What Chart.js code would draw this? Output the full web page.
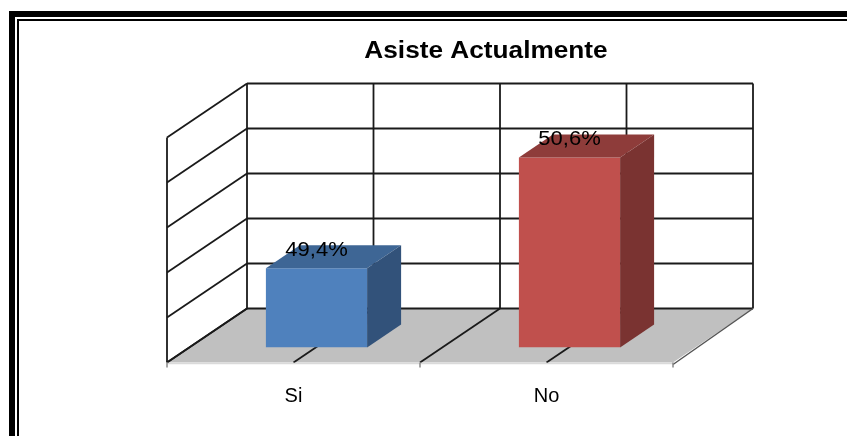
<!DOCTYPE html>
<html>
<head>
<meta charset="utf-8">
<script src="https://cdn.jsdelivr.net/npm/chart.js@4"></script>
<style>
  html, body { margin: 0; padding: 0; background: #fff; overflow: hidden; }
  canvas { display: block; }
</style>
</head>
<body>
<canvas id="AsisteChart" width="847" height="436"></canvas>
<script>
//
// Data
var chart_title = 'Asiste Actualmente';
var categories = ['Si', 'No'];
var attendance = [49.38, 50.61];
var value_labels = ['49,4%', '50,6%'];
var axis_min = 48.5;
var axis_max = 51;
var axis_step = 0.5;
var front_colors = ['#4F81BD', '#C0504D'];
var top_colors = ['#3E6695', '#8E3C3A'];
var side_colors = ['#32527A', '#7A3331'];

//
// Depth of the fake 3D box and of the bars inside it
var wall_dx = 80, wall_dy = -54;
var bar_dx = 23, bar_dy = -15;
var side_dx = 34, side_dy = -23;

function stretchedText(ctx, text, x, y, font, stretch) {
  ctx.save();
  ctx.font = font;
  ctx.fillStyle = '#000';
  ctx.textAlign = 'center';
  ctx.textBaseline = 'middle';
  ctx.translate(x, y);
  ctx.scale(stretch, 1);
  ctx.fillText(text, 0, 0);
  ctx.restore();
}

function line(ctx, x1, y1, x2, y2) {
  ctx.beginPath();
  ctx.moveTo(x1, y1);
  ctx.lineTo(x2, y2);
  ctx.stroke();
}

function poly(ctx, points, color) {
  ctx.fillStyle = color;
  ctx.beginPath();
  ctx.moveTo(points[0][0], points[0][1]);
  for (var i = 1; i < points.length; i++) {
    ctx.lineTo(points[i][0], points[i][1]);
  }
  ctx.closePath();
  ctx.fill();
}

//
// Frame, walls and floor behind the bars
var box3d = {
  id: 'box3d',
  beforeDatasetsDraw: function(chart) {
    var ctx = chart.ctx, area = chart.chartArea;
    var x = chart.scales.x, y = chart.scales.y;
    var step = (x.getPixelForValue(1) - x.getPixelForValue(0)) / 2;

    ctx.save();

    // Page frame
    ctx.fillStyle = '#000';
    ctx.fillRect(9, 11, 838, 6);
    ctx.fillRect(9, 11, 6, 425);
    ctx.fillRect(17, 19, 830, 2);
    ctx.fillRect(17, 19, 2, 417);

    // Floor
    poly(ctx, [
      [area.left, area.bottom],
      [area.left + wall_dx, area.bottom + wall_dy],
      [area.right + wall_dx, area.bottom + wall_dy],
      [area.right, area.bottom]
    ], '#C0C0C0');

    ctx.strokeStyle = '#1a1a1a';
    ctx.lineWidth = 1.8;

    // Horizontal grid lines, on both walls
    y.ticks.forEach(function(tick) {
      var py = y.getPixelForValue(tick.value);
      line(ctx, area.left, py, area.left + wall_dx, py + wall_dy);
      line(ctx, area.left + wall_dx, py + wall_dy, area.right + wall_dx, py + wall_dy);
    });

    // Vertical lines on the back wall
    for (var i = 0; i <= 4; i++) {
      var vx = area.left + wall_dx + i * step;
      line(ctx, vx, area.top + wall_dy, vx, area.bottom + wall_dy);
    }
    line(ctx, area.left, area.top, area.left, area.bottom);

    // Floor lines
    for (var j = 0; j < 4; j++) {
      var fx = area.left + j * step;
      line(ctx, fx, area.bottom, fx + wall_dx, area.bottom + wall_dy);
    }
    ctx.strokeStyle = '#555';
    ctx.lineWidth = 1.5;
    line(ctx, area.right, area.bottom + 2, area.right + wall_dx, area.bottom + wall_dy);

    // Front edge and ticks
    ctx.strokeStyle = '#DADADA';
    ctx.lineWidth = 1.5;
    line(ctx, area.left, area.bottom + 1, area.right, area.bottom + 1);
    ctx.strokeStyle = '#888';
    [0, 2, 4].forEach(function(k) {
      var tx = area.left + k * step;
      line(ctx, tx, area.bottom, tx, area.bottom + 5);
    });

    ctx.restore();
  },

  // Bars sit part way into the box
  beforeDatasetDraw: function(chart) {
    chart.ctx.save();
    chart.ctx.translate(bar_dx, bar_dy);
  },
  afterDatasetDraw: function(chart) {
    chart.ctx.restore();
  },

  // Top and side faces come from the bar elements, then the labels
  afterDatasetsDraw: function(chart) {
    var ctx = chart.ctx;
    chart.getDatasetMeta(0).data.forEach(function(bar, i) {
      var half = bar.width / 2;
      var l = bar.x - half + bar_dx, r = bar.x + half + bar_dx;
      var t = bar.y + bar_dy, b = bar.base + bar_dy;

      poly(ctx, [[l, t], [l + side_dx, t + side_dy], [r + side_dx, t + side_dy], [r, t]], top_colors[i]);
      poly(ctx, [[r, t], [r + side_dx, t + side_dy], [r + side_dx, b + side_dy], [r, b]], side_colors[i]);

      stretchedText(ctx, value_labels[i], bar.x + bar_dx, t - 18, '20px "Liberation Sans"', 1.1);
    });
    stretchedText(ctx, chart_title, 486, 52, 'bold 23px "Liberation Sans"', 1.14);
  }
};

new Chart(document.getElementById('AsisteChart').getContext('2d'), {
  type: 'bar',
  data: {
    labels: categories,
    datasets: [{
      data: attendance,
      base: axis_min,
      backgroundColor: front_colors,
      borderWidth: 0,
      barPercentage: 0.4,
      categoryPercentage: 1
    }]
  },
  options: {
    responsive: false,
    animation: false,
    layout: {
      padding: { left: 167, right: 174, top: 137.5, bottom: 0 }
    },
    plugins: {
      legend: { display: false },
      tooltip: { enabled: false }
    },
    scales: {
      x: {
        grid: { display: false },
        border: { display: false },
        ticks: {
          color: '#000',
          padding: 14,
          maxRotation: 0,
          font: { family: '"Liberation Sans"', size: 20 }
        },
        afterFit: function(scale) { scale.height = 73.5; }
      },
      y: {
        display: true,
        min: axis_min,
        max: axis_max,
        grid: { display: false },
        border: { display: false },
        ticks: { stepSize: axis_step, display: false },
        afterFit: function(scale) { scale.width = 0; }
      }
    }
  },
  plugins: [box3d]
});
</script>
</body>
</html>
